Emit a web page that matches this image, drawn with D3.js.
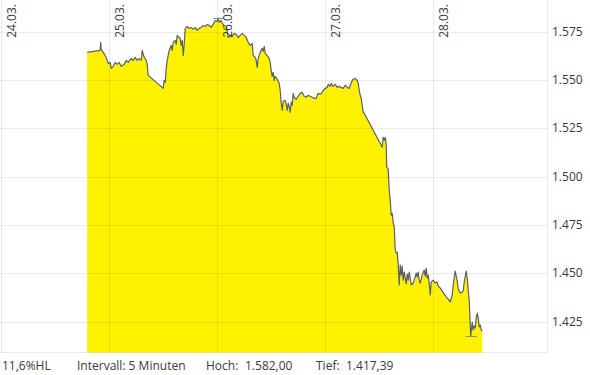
<!DOCTYPE html>
<html>
<head>
<meta charset="utf-8">
<script src="https://cdn.jsdelivr.net/npm/d3@7"></script>
<style>
  html, body { margin: 0; padding: 0; background: #fff; }
  svg { display: block; font-family: "Open Sans", "Noto Sans", sans-serif; }
</style>
</head>
<body>
<svg id="chart" width="590" height="375"></svg>
<script>
// ---- data (hours since 24.03. 00:00, price) ----
const hours = [19.04,21.93,22.04,22.16,22.6,23.04,23.27,23.71,24.16,24.38,24.82,25.27,25.71,26.16,26.6,27.27,27.71,28.16,28.82,29.27,29.71,30.16,30.6,31.04,31.27,31.71,32.16,32.38,32.6,35.93,36.16,36.38,36.6,36.82,37.27,37.71,37.93,38.16,38.6,38.82,39.04,39.49,39.71,39.93,40.16,40.38,40.6,40.82,41.27,41.71,42.16,42.6,43.04,43.49,43.93,44.38,44.82,45.27,45.71,46.16,46.6,47.04,47.49,47.93,48.16,48.38,48.82,49.04,49.49,49.93,50.16,50.38,50.82,51.27,51.71,52.16,52.6,53.04,53.49,53.93,54.38,54.82,55.27,55.71,55.93,56.38,56.6,56.82,57.04,57.49,57.93,58.16,58.38,58.6,59.04,59.49,59.71,59.93,60.16,60.38,60.6,60.82,61.27,61.71,61.93,62.16,62.38,62.6,63.04,63.27,63.49,63.71,63.93,64.16,64.38,64.6,64.82,65.04,65.49,65.93,66.38,66.82,67.27,67.71,68.16,68.6,69.04,69.49,69.93,70.16,70.38,70.82,71.27,71.49,71.93,72.38,72.6,73.04,73.27,73.71,74.16,74.6,75.04,75.49,75.93,76.38,76.82,77.27,77.49,77.93,78.16,78.6,79.04,79.27,79.49,79.71,79.93,80.16,80.38,80.6,84.6,84.82,85.04,85.27,85.49,85.6,85.93,86.16,86.38,86.6,86.82,87.04,87.27,87.49,87.71,87.93,88.16,88.38,88.6,88.82,89.04,89.27,89.49,89.71,89.93,90.16,90.38,90.6,90.82,91.04,91.49,91.71,92.16,92.38,92.6,92.82,93.04,93.49,93.93,94.16,94.38,94.6,94.82,95.04,95.27,95.49,95.93,96.38,96.82,97.04,97.49,97.93,98.38,98.82,99.27,99.71,100.16,100.38,100.82,101.04,101.27,101.49,101.93,102.38,102.6,102.82,103.27,103.49,103.71,103.93,104.27,104.6,104.82,105.04,105.27,105.49,105.71,105.93,106.16,106.38,106.6,106.82];
const prices = [1564.2,1565.2,1569.4,1565.7,1564.2,1562.6,1561.6,1558.5,1559.0,1555.9,1557.0,1559.0,1558.0,1559.0,1557.0,1558.0,1560.1,1559.0,1561.1,1560.1,1561.6,1560.1,1561.1,1560.1,1565.2,1561.6,1560.1,1558.0,1552.3,1545.6,1549.7,1548.7,1555.9,1560.1,1565.2,1567.8,1565.2,1569.4,1570.4,1568.3,1573.0,1571.9,1571.4,1567.8,1570.4,1562.6,1568.3,1576.6,1577.6,1576.6,1577.1,1576.1,1577.1,1575.6,1576.6,1577.1,1578.1,1577.6,1578.7,1578.1,1577.1,1578.7,1580.7,1580.2,1582.0,1579.7,1580.7,1579.2,1578.1,1577.6,1575.0,1571.9,1573.0,1572.5,1574.0,1573.5,1571.9,1573.0,1574.0,1573.0,1571.9,1569.4,1567.8,1568.8,1562.6,1561.6,1560.1,1556.4,1561.1,1564.2,1566.3,1564.7,1567.3,1563.7,1562.6,1561.1,1559.0,1554.9,1551.8,1553.9,1549.7,1551.8,1550.3,1548.2,1544.6,1537.9,1534.2,1538.9,1539.4,1537.3,1534.2,1537.9,1536.3,1533.2,1538.4,1536.8,1543.0,1541.0,1539.9,1541.5,1543.0,1543.5,1541.5,1541.0,1542.0,1541.5,1541.0,1540.4,1540.4,1542.0,1543.0,1542.5,1543.5,1544.6,1545.6,1546.1,1547.7,1546.6,1548.2,1546.6,1547.7,1546.1,1546.6,1546.1,1545.6,1547.2,1546.1,1545.6,1547.2,1549.7,1550.3,1550.8,1549.7,1548.2,1544.6,1542.0,1540.4,1536.8,1533.2,1532.7,1515.1,1520.3,1518.7,1520.3,1516.2,1504.8,1503.8,1492.9,1487.8,1480.0,1481.0,1475.9,1474.3,1461.9,1460.4,1460.9,1454.2,1443.9,1454.2,1449.0,1453.7,1446.4,1450.6,1447.5,1444.4,1449.5,1446.4,1450.6,1447.5,1443.9,1444.9,1446.4,1450.0,1448.0,1450.6,1446.4,1444.9,1449.0,1451.6,1448.5,1452.6,1447.5,1449.0,1444.9,1438.7,1445.4,1446.4,1444.9,1445.4,1443.3,1442.3,1440.8,1439.2,1437.7,1436.6,1435.1,1438.7,1443.9,1451.1,1448.5,1445.9,1441.8,1439.7,1440.2,1440.8,1445.4,1451.1,1447.5,1441.3,1436.1,1417.39,1424.7,1420.6,1422.7,1421.6,1426.8,1429.4,1426.8,1422.2,1423.2,1420.6,1420.1];

const dayTicks = [0, 24, 48, 72, 96];
const dayLabels = ["24.03.", "25.03.", "26.03.", "27.03.", "28.03."];
const priceTicks = [1425, 1450, 1475, 1500, 1525, 1550, 1575];
const footer = { range: "11,6%HL", interval: "Intervall: 5 Minuten", highLabel: "Hoch:", lowLabel: "Tief:" };

// ---- layout ----
const svg = d3.select("#chart");
const plot = { left: 1.5, right: 547.5, top: 0, bottom: 352.5 };

const x = d3.scaleLinear().domain([0, 121.33]).range([plot.left, plot.right]);
const y = d3.scaleLinear().domain([1425, 1575]).range([321.5, 31.5]);

const de = d3.formatLocale({ decimal: ",", thousands: ".", grouping: [3], currency: ["", "€"] });
const fmtTick = de.format(",.0f");
const fmt2 = de.format(",.2f");

const data = hours.map((h, i) => ({ h, v: prices[i] }));

// area
const area = d3.area().x(d => x(d.h)).y0(plot.bottom).y1(d => y(d.v));
svg.append("path").datum(data).attr("d", area).attr("fill", "#fff200");

// line
const line = d3.line().x(d => x(d.h)).y(d => y(d.v));
svg.append("path").datum(data).attr("d", line)
  .attr("fill", "none").attr("stroke", "#5b6068").attr("stroke-width", 1.2)
  .attr("stroke-linejoin", "round");

// high / low markers
const hi = data.reduce((a, b) => (b.v > a.v ? b : a));
const lo = data.reduce((a, b) => (b.v < a.v ? b : a));
[hi, lo].forEach(d => {
  svg.append("line")
    .attr("x1", x(d.h) - 5).attr("x2", x(d.h) + 6)
    .attr("y1", Math.round(y(d.v)) + 0.5).attr("y2", Math.round(y(d.v)) + 0.5)
    .attr("stroke", "#8a8f96").attr("stroke-width", 1);
});

// grid (drawn on top, semi-transparent)
const gridColor = "rgba(0,0,0,0.08)";
const grid = svg.append("g");
grid.selectAll("line.h").data(priceTicks).join("line")
  .attr("x1", 0).attr("x2", plot.right)
  .attr("y1", d => Math.round(y(d)) + 0.5).attr("y2", d => Math.round(y(d)) + 0.5)
  .attr("stroke", gridColor);
grid.selectAll("line.v").data(dayTicks).join("line")
  .attr("x1", d => x(d)).attr("x2", d => x(d))
  .attr("y1", plot.top).attr("y2", plot.bottom)
  .attr("stroke", gridColor);
grid.append("line").attr("x1", plot.right).attr("x2", plot.right)
  .attr("y1", plot.top).attr("y2", plot.bottom).attr("stroke", gridColor);
grid.append("line").attr("x1", 0).attr("x2", plot.right)
  .attr("y1", plot.bottom).attr("y2", plot.bottom).attr("stroke", gridColor);

// day labels (rotated)
svg.selectAll("text.day").data(dayTicks).join("text")
  .attr("transform", d => `translate(${x(d) + 14},4) rotate(-90)`)
  .attr("text-anchor", "end")
  .attr("font-size", 12).attr("fill", "#3a3a3a")
  .text((d, i) => dayLabels[i]);

// price labels right
svg.selectAll("text.price").data(priceTicks).join("text")
  .attr("x", 552).attr("y", d => y(d)).attr("dy", "0.36em")
  .attr("font-size", 12).attr("fill", "#3a3a3a")
  .text(d => fmtTick(d));

// footer
const fy = 370;
const foot = [
  { x: 2, t: footer.range },
  { x: 77, t: footer.interval },
  { x: 206, t: footer.highLabel },
  { x: 245, t: fmt2(hi.v) },
  { x: 316, t: footer.lowLabel },
  { x: 346, t: fmt2(lo.v) }
];
svg.selectAll("text.foot").data(foot).join("text")
  .attr("x", d => d.x).attr("y", fy)
  .attr("font-size", 12).attr("fill", "#3a3a3a")
  .text(d => d.t);
</script>
</body>
</html>
